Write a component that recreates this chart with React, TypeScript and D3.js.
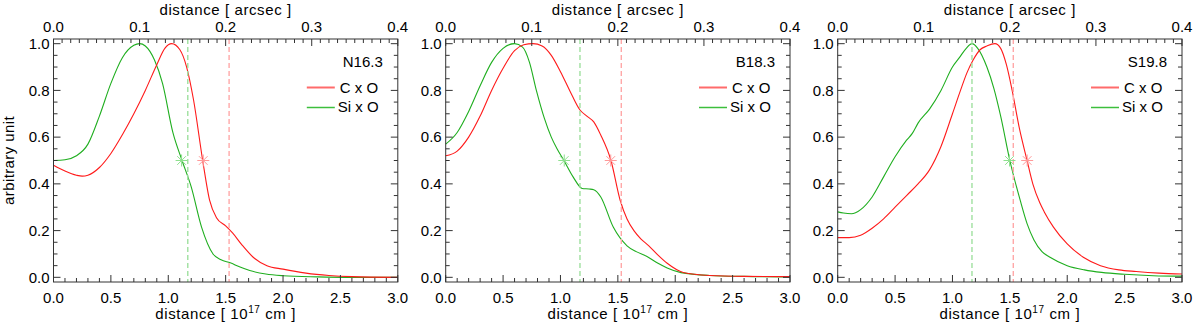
import React from 'react';
import * as d3 from 'd3';

// panel labels and the two species shown in every panel
const panelNames = ['N16.3', 'B18.3', 'S19.8'];
const seriesNames = ['C x O', 'Si x O'];

// N16.3
const n163CxX = [0, 0.1, 0.2, 0.25, 0.3, 0.4, 0.5, 0.6, 0.7, 0.8, 0.9, 0.97, 1.03, 1.1, 1.16, 1.22, 1.3, 1.36, 1.42, 1.5, 1.56, 1.64, 1.74, 1.86, 2.0, 2.2, 2.4, 2.6, 3.0];
const n163CxY = [0.48, 0.455, 0.437, 0.433, 0.437, 0.47, 0.53, 0.61, 0.7, 0.8, 0.91, 0.98, 1.0, 0.975, 0.9, 0.76, 0.5, 0.33, 0.255, 0.22, 0.19, 0.14, 0.086, 0.05, 0.035, 0.018, 0.008, 0.003, 0.0];
const n163SiX = [0, 0.1, 0.2, 0.3, 0.4, 0.5, 0.6, 0.7, 0.75, 0.8, 0.88, 0.95, 1.04, 1.12, 1.2, 1.29, 1.39, 1.46, 1.54, 1.62, 1.71, 1.85, 2.0, 2.3, 2.6, 3.0];
const n163SiY = [0.5, 0.503, 0.52, 0.57, 0.69, 0.83, 0.94, 0.993, 1.0, 0.99, 0.93, 0.83, 0.62, 0.5, 0.387, 0.215, 0.1, 0.075, 0.062, 0.045, 0.029, 0.014, 0.007, 0.002, 0.0, 0.0];

// B18.3
const b183CxX = [0, 0.1, 0.2, 0.3, 0.4, 0.5, 0.6, 0.68, 0.76, 0.84, 0.92, 1.0, 1.08, 1.17, 1.23, 1.29, 1.35, 1.44, 1.52, 1.58, 1.64, 1.7, 1.77, 1.85, 1.93, 2.07, 2.3, 2.6, 3.0];
const b183CxY = [0.52, 0.54, 0.6, 0.69, 0.8, 0.895, 0.97, 0.995, 1.0, 0.99, 0.95, 0.88, 0.8, 0.716, 0.69, 0.665, 0.61, 0.5, 0.33, 0.25, 0.2, 0.165, 0.135, 0.095, 0.06, 0.021, 0.008, 0.004, 0.003];
const b183SiX = [0, 0.1, 0.2, 0.3, 0.4, 0.5, 0.6, 0.67, 0.73, 0.79, 0.86, 0.92, 0.97, 1.03, 1.11, 1.19, 1.25, 1.29, 1.35, 1.46, 1.58, 1.66, 1.75, 1.85, 1.93, 2.05, 2.3, 2.6, 3.0];
const b183SiY = [0.57, 0.62, 0.71, 0.82, 0.92, 0.98, 1.0, 0.985, 0.92, 0.8, 0.68, 0.6, 0.55, 0.5, 0.43, 0.38, 0.378, 0.375, 0.345, 0.215, 0.135, 0.11, 0.09, 0.06, 0.04, 0.02, 0.008, 0.004, 0.002];

// S19.8
const s198CxX = [0, 0.1, 0.2, 0.3, 0.4, 0.5, 0.6, 0.7, 0.8, 0.9, 1.0, 1.07, 1.125, 1.18, 1.24, 1.3, 1.37, 1.42, 1.47, 1.52, 1.58, 1.65, 1.7, 1.76, 1.8, 1.88, 2.0, 2.14, 2.29, 2.45, 2.6, 2.8, 3.0];
const s198CxY = [0.17, 0.17, 0.18, 0.21, 0.25, 0.3, 0.35, 0.4, 0.46, 0.56, 0.7, 0.8, 0.874, 0.93, 0.974, 0.99, 1.0, 0.98, 0.91, 0.8, 0.645, 0.5, 0.4, 0.32, 0.28, 0.215, 0.143, 0.086, 0.05, 0.032, 0.025, 0.018, 0.014];
const s198SiX = [0, 0.05, 0.12, 0.2, 0.3, 0.4, 0.5, 0.6, 0.65, 0.7, 0.8, 0.9, 1.0, 1.06, 1.12, 1.17, 1.22, 1.3, 1.36, 1.42, 1.5, 1.59, 1.65, 1.71, 1.78, 1.85, 2.0, 2.15, 2.3, 2.5, 2.75, 3.0];
const s198SiY = [0.28, 0.275, 0.272, 0.29, 0.344, 0.43, 0.516, 0.587, 0.616, 0.66, 0.72, 0.8, 0.9, 0.94, 0.98, 1.0, 0.98, 0.9, 0.81, 0.69, 0.5, 0.33, 0.23, 0.16, 0.11, 0.086, 0.05, 0.032, 0.021, 0.013, 0.007, 0.005];

// half-maximum points (y = 0.5) and reference distances
const halfCx = [1.305, 1.438, 1.651];
const halfSi = [1.116, 1.033, 1.497];
const refSi = 1.17;
const refCx = 1.53;

// tick values
const bottomTicks = [0, 0.5, 1.0, 1.5, 2.0, 2.5, 3.0];
const topTicks = [0, 0.1, 0.2, 0.3, 0.4];
const leftTicks = [0, 0.2, 0.4, 0.6, 0.8, 1.0];

const panels = [
  { name: panelNames[0], cx: [n163CxX, n163CxY], si: [n163SiX, n163SiY] },
  { name: panelNames[1], cx: [b183CxX, b183CxY], si: [b183SiX, b183SiY] },
  { name: panelNames[2], cx: [s198CxX, s198CxY], si: [s198SiX, s198SiY] },
];

const W = 1200;
const H = 327;
const lefts = [53.5, 445.7, 837.7];
const pw = 344.3;
const top = 39;
const bottom = 282;
const font = '"Liberation Sans", Arial, Helvetica, sans-serif';
const axisCol = '#333';
const red = '#ff1a1a';
const green = '#1fae1f';

const Star = ({ x, y, color }: { x: number; y: number; color: string }) => {
  const r = 6;
  const d = r * 0.72;
  return (
    <g stroke={color} strokeWidth={1}>
      <line x1={x - r} y1={y} x2={x + r} y2={y} />
      <line x1={x} y1={y - r} x2={x} y2={y + r} />
      <line x1={x - d} y1={y - d} x2={x + d} y2={y + d} />
      <line x1={x - d} y1={y + d} x2={x + d} y2={y - d} />
    </g>
  );
};

const Panel = ({ idx }: { idx: number }) => {
  const p = panels[idx];
  const L = lefts[idx];
  const R = L + pw;
  const x = d3.scaleLinear().domain([0, 3]).range([L, R]);
  const xTop = d3.scaleLinear().domain([0, 0.4]).range([L, R]);
  const y = d3.scaleLinear().domain([-0.02, 1.02]).range([bottom, top]);
  const line = d3.line<[number, number]>()
    .x(d => x(d[0]))
    .y(d => y(d[1]))
    .curve(d3.curveMonotoneX);
  const pts = (s: number[][]) => s[0].map((v, i) => [v, s[1][i]] as [number, number]);

  const minorX = d3.range(0, 3.0001, 0.1);
  const minorTop = d3.range(0, 0.40001, 0.01);
  const minorY = d3.range(0, 1.0001, 0.05);
  const cx = (L + R) / 2;

  return (
    <g fontFamily={font} fontSize={15} fill="#000">
      {/* curves */}
      <path d={line(pts(p.si)) || ''} fill="none" stroke={green} strokeWidth={1.1} />
      <path d={line(pts(p.cx)) || ''} fill="none" stroke={red} strokeWidth={1.1} />

      {/* reference distances */}
      <line x1={x(refSi)} x2={x(refSi)} y1={top} y2={bottom} stroke="#9fe09f" strokeWidth={1.4} strokeDasharray="5,3" />
      <line x1={x(refCx)} x2={x(refCx)} y1={top} y2={bottom} stroke="#ffa8a8" strokeWidth={1.4} strokeDasharray="5,3" />

      {/* half max markers */}
      <Star x={x(halfSi[idx])} y={y(0.5)} color="#8fe08f" />
      <Star x={x(halfCx[idx])} y={y(0.5)} color="#ff9a9a" />

      {/* frame */}
      <rect x={L} y={top} width={pw} height={bottom - top} fill="none" stroke={axisCol} strokeWidth={1} />

      {/* bottom / top x ticks */}
      {minorX.map((t, i) => (
        <line key={'bx' + i} x1={x(t)} x2={x(t)} y1={bottom} y2={bottom - (i % 5 === 0 ? 7 : 4)} stroke={axisCol} />
      ))}
      {minorTop.map((t, i) => (
        <line key={'tx' + i} x1={xTop(t)} x2={xTop(t)} y1={top} y2={top + (i % 10 === 0 ? 7 : 4)} stroke={axisCol} />
      ))}
      {minorY.map((t, i) => (
        <g key={'y' + i} stroke={axisCol}>
          <line x1={L} x2={L + (i % 4 === 0 ? 7 : 4)} y1={y(t)} y2={y(t)} />
          <line x1={R} x2={R - (i % 4 === 0 ? 7 : 4)} y1={y(t)} y2={y(t)} />
        </g>
      ))}

      {/* tick labels */}
      {bottomTicks.map(t => (
        <text key={'bl' + t} x={x(t)} y={303} textAnchor="middle">{t.toFixed(1)}</text>
      ))}
      {topTicks.map(t => (
        <text key={'tl' + t} x={xTop(t)} y={31.5} textAnchor="middle">{t.toFixed(1)}</text>
      ))}
      {leftTicks.map(t => (
        <text key={'ll' + t} x={L - 4} y={y(t) + 5.3} textAnchor="end">{t.toFixed(1)}</text>
      ))}

      {/* axis titles */}
      <text x={cx} y={14.5} textAnchor="middle" letterSpacing={0.6}>distance [ arcsec ]</text>
      <text x={cx} y={319} textAnchor="middle" letterSpacing={0.6}>
        distance [ 10<tspan fontSize={10} dy={-6}>17</tspan><tspan dy={6}> cm ]</tspan>
      </text>

      {/* legend */}
      <text x={R - 15} y={67} textAnchor="end">{p.name}</text>
      <line x1={R - 91} x2={R - 63} y1={87.5} y2={87.5} stroke="#ff6b6b" strokeWidth={2} />
      <text x={R - 58} y={93}>{seriesNames[0]}</text>
      <line x1={R - 91} x2={R - 63} y1={107.5} y2={107.5} stroke="#3cbf3c" strokeWidth={1.5} />
      <text x={R - 60} y={111.5}>{seriesNames[1]}</text>
    </g>
  );
};

export default function App() {
  return (
    <svg width={W} height={H} style={{ position: 'absolute', left: 0, top: 0, background: '#fff' }}>
      <rect width={W} height={H} fill="#fff" />
      {panels.map((_, i) => <Panel key={i} idx={i} />)}
      <text
        fontFamily={font}
        fontSize={15}
        letterSpacing={0.4}
        transform={`translate(14,${(top + bottom) / 2}) rotate(-90)`}
        textAnchor="middle"
      >
        arbitrary unit
      </text>
    </svg>
  );
}
